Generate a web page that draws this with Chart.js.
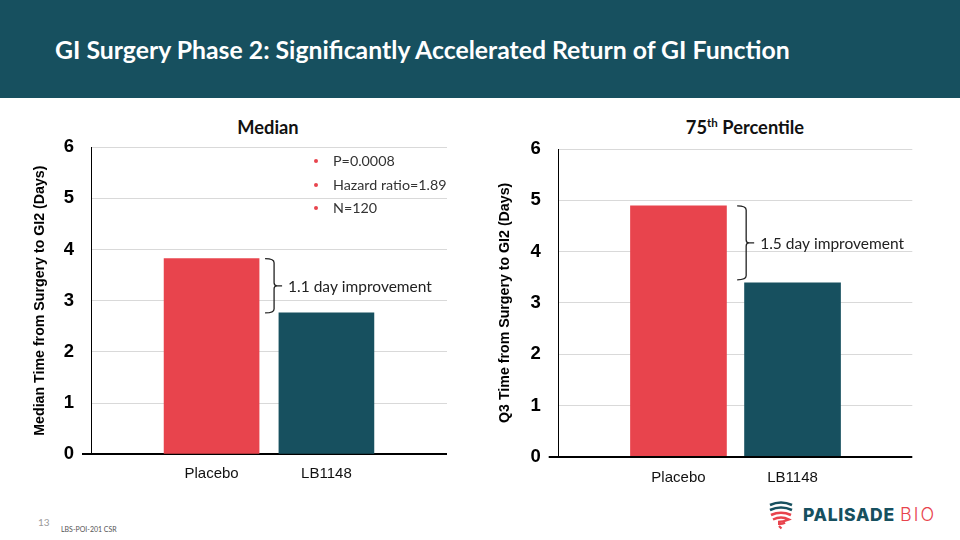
<!DOCTYPE html>
<html><head><meta charset="utf-8">
<script src="https://cdn.jsdelivr.net/npm/chart.js@4/dist/chart.umd.min.js"></script>
<style>
body{margin:0;width:960px;height:540px;position:relative;background:#fff;overflow:hidden;font-family:Lato,sans-serif}
#hdr{position:absolute;left:0;top:0;width:960px;height:98px;background:#17505f}
#hdr h1{position:absolute;left:55px;top:35px;margin:0;font-weight:bold;font-size:24.8px;font-family:Lato,sans-serif;color:#fff;white-space:nowrap;line-height:30px}
.ct{position:absolute;font-weight:bold;font-size:18.3px;font-family:Lato,sans-serif;color:#111;text-align:center;width:240px;line-height:20px}
.ct sup{font-size:11.5px;vertical-align:top;position:relative;top:-4px}
.cw{position:absolute;top:100px;width:480px;height:400px}
#bul{position:absolute;left:310px;top:151px;font-size:14.3px;font-family:Lato,sans-serif;color:#333}
#bul div{height:23.7px;line-height:20px;position:relative;padding-left:23px}
#bul div:before{content:"";position:absolute;left:4px;top:8px;width:4px;height:4px;border-radius:2px;background:#e8444d}
#pg{position:absolute;left:38px;top:516px;font-size:10px;color:#9a9a9a;font-family:Lato,sans-serif}
#src{position:absolute;left:61px;top:525px;font-size:7px;color:#555;font-family:Lato,sans-serif}
#logo{position:absolute;left:766px;top:501px;width:194px;height:30px}
#logo .t1{position:absolute;left:37px;top:3px;font-family:Inter,sans-serif;font-weight:800;font-size:17.5px;color:#17505f;letter-spacing:0.7px}
#logo .t2{position:absolute;left:134px;top:3px;font-family:Inter,sans-serif;font-weight:300;font-size:18px;color:#e8444d;letter-spacing:2px}
</style>
</head><body>
<div id="hdr"><h1>GI Surgery Phase 2: Significantly Accelerated Return of GI Function</h1></div>
<div class="ct" style="left:148px;top:117px">Median</div>
<div class="ct" style="left:625px;top:117px">75<sup>th</sup> Percentile</div>
<div class="cw" style="left:0"><canvas id="c1" width="480" height="400"></canvas></div>
<div class="cw" style="left:480px"><canvas id="c2" width="480" height="400"></canvas></div>
<div id="bul"></div>
<div id="pg">13</div>
<div id="src">LBS-POI-201 CSR</div>
<div id="logo">
<svg width="30" height="30" style="position:absolute;left:0;top:0" viewBox="0 0 30 30">
<path d="M4 4 Q15 -1 26 4" stroke="#17505f" stroke-width="2.6" fill="none"/>
<path d="M4 9 Q15 4 26 9" stroke="#17505f" stroke-width="2.6" fill="none"/>
<path d="M5 14 Q15 9.5 25 14" stroke="#e8444d" stroke-width="2.6" fill="none"/>
<path d="M7 18.5 Q15 14.5 23 18.5 Q17 21 12 21" stroke="#e8444d" stroke-width="2.4" fill="none"/>
<path d="M12 23 Q17 23 19 21.5 M13 25 L15.5 27.5" stroke="#e8444d" stroke-width="2.2" fill="none"/>
</svg>
<span class="t1">PALISADE</span><span class="t2">BIO</span>
</div>
<script>
const categories = ['Placebo', 'LB1148'];
const medianValues = [3.82, 2.76];
const q3Values = [4.89, 3.39];
const yTickMin = 0;
const yTickMax = 6;
const medianBullets = ['P=0.0008', 'Hazard ratio=1.89', 'N=120'];
const medianNote = '1.1 day improvement';
const q3Note = '1.5 day improvement';
const medianTitle = 'Median Time from Surgery to GI2 (Days)';
const q3Title = 'Q3 Time from Surgery to GI2 (Days)';
const barColors = ['#e8444d', '#17505f'];

document.getElementById('bul').innerHTML = medianBullets.map(t => '<div>' + t + '</div>').join('');

function makeChart(id, values, yTitle, note, cfg) {
  const bracket = {
    id: 'bracket',
    afterDatasetsDraw(chart) {
      const ctx = chart.ctx;
      const ys = chart.scales.y;
      const b0 = chart.getDatasetMeta(0).data[0];
      const yTop = ys.getPixelForValue(values[0]);
      const yBot = ys.getPixelForValue(values[1]) + cfg.botAdj;
      const x0 = b0.x + b0.width / 2 + cfg.gap;
      const w = 9;
      const mid = (yTop + yBot) / 2;
      ctx.save();
      ctx.strokeStyle = '#222';
      ctx.lineWidth = 1.3;
      ctx.beginPath();
      ctx.moveTo(x0, yTop);
      ctx.quadraticCurveTo(x0 + w, yTop, x0 + w, yTop + 4);
      ctx.lineTo(x0 + w, mid - 3);
      ctx.quadraticCurveTo(x0 + w, mid, x0 + w + 3, mid);
      ctx.lineTo(x0 + w + 8, mid);
      ctx.moveTo(x0 + w + 3, mid);
      ctx.quadraticCurveTo(x0 + w, mid, x0 + w, mid + 3);
      ctx.lineTo(x0 + w, yBot - 4);
      ctx.quadraticCurveTo(x0 + w, yBot, x0, yBot);
      ctx.stroke();
      ctx.fillStyle = '#222';
      ctx.font = '15.5px Lato, sans-serif';
      ctx.textBaseline = 'middle';
      ctx.textAlign = 'left';
      ctx.fillText(note, x0 + w + 14, mid + 1);
      ctx.restore();
    }
  };
  return new Chart(document.getElementById(id), {
    type: 'bar',
    data: {
      datasets: [{
        data: values.map((v, i) => ({x: i, y: v})),
        backgroundColor: barColors,
        barThickness: cfg.barW
      }]
    },
    plugins: [bracket],
    options: {
      responsive: false,
      animation: false,
      layout: {padding: {left: 0, top: cfg.top, right: cfg.right, bottom: 0}},
      plugins: {legend: {display: false}, tooltip: {enabled: false}},
      scales: {
        x: {
          type: 'linear', min: -1.05, max: 2.05, offset: false,
          grid: {display: false, drawTicks: false},
          border: {display: false},
          afterBuildTicks: s => { s.ticks = categories.map((c, i) => ({value: i})); },
          afterFit: s => { s.height = cfg.xH; },
          ticks: {
            autoSkip: false, maxRotation: 0, padding: cfg.xPad,
            color: '#111', font: {family: 'Liberation Sans, Arial', size: 15},
            callback: v => categories[v]
          }
        },
        y: {
          min: yTickMin, max: yTickMax,
          afterFit: s => { s.width = cfg.yW; },
          border: {display: true, color: '#000', width: 1},
          grid: {
            color: c => c.tick && c.tick.value === 0 ? '#000' : '#d9d9d9',
            lineWidth: c => c.tick && c.tick.value === 0 ? 2 : 1,
            tickColor: c => c.tick && c.tick.value === 0 ? '#000' : 'rgba(0,0,0,0)',
            tickLength: cfg.tickL
          },
          ticks: {
            stepSize: 1, padding: 8, color: '#000',
            font: {family: 'Liberation Sans, Arial', size: 18.5, weight: 'bold'}
          },
          title: {
            display: true, text: yTitle, color: '#000',
            font: {family: 'Liberation Sans, Arial', size: 14.2, weight: 'bold'},
            padding: {top: cfg.titlePad, bottom: 0}
          }
        }
      }
    }
  });
}

makeChart('c1', medianValues, medianTitle, medianNote,
  {top: 47, right: 33, yW: 91, xH: 45.7, xPad: 11, tickL: 9, titlePad: 31.2, barW: 95, gap: 6, botAdj: 0});
makeChart('c2', q3Values, q3Title, q3Note,
  {top: 49, right: 47.7, yW: 78.7, xH: 43.3, xPad: 12, tickL: 10, titlePad: 16.2, barW: 96, gap: 10.7, botAdj: -3});
</script>
</body></html>
